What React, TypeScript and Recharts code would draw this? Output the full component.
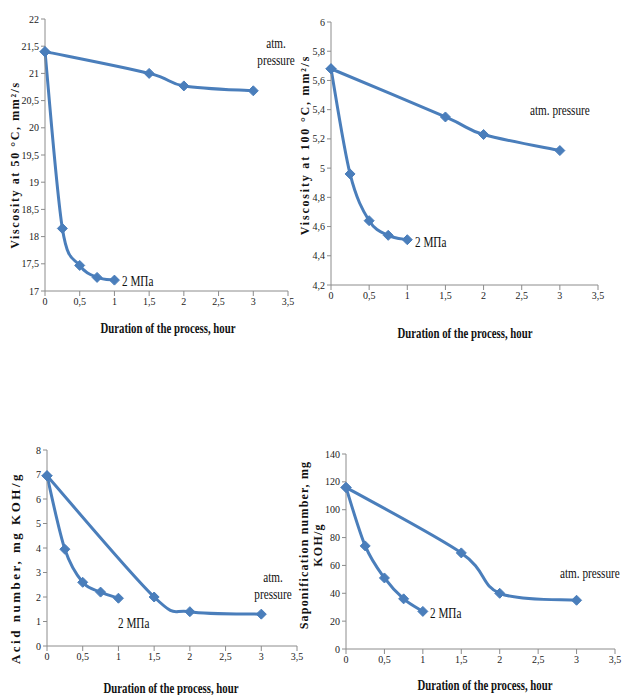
import React from 'react';
import { LineChart, Line, XAxis, YAxis } from 'recharts';

const atmHours = [0, 1.5, 2, 3];
const mpaHours = [0, 0.25, 0.5, 0.75, 1];
const xTicks = [0, 0.5, 1, 1.5, 2, 2.5, 3, 3.5];

const visc50Atm = [21.4, 21.0, 20.77, 20.68];
const visc50Mpa = [21.4, 18.15, 17.47, 17.25, 17.2];
const visc50Ticks = [17, 17.5, 18, 18.5, 19, 19.5, 20, 20.5, 21, 21.5, 22];

const visc100Atm = [5.68, 5.35, 5.23, 5.12];
const visc100Mpa = [5.68, 4.96, 4.64, 4.54, 4.51];
const visc100Ticks = [4.2, 4.4, 4.6, 4.8, 5, 5.2, 5.4, 5.6, 5.8, 6];

const acidAtm = [6.95, 2.0, 1.4, 1.3];
const acidMpa = [6.95, 3.95, 2.6, 2.2, 1.95];
const acidTicks = [0, 1, 2, 3, 4, 5, 6, 7, 8];

const saponAtm = [116, 69, 40, 35];
const saponMpa = [116, 74, 51, 36, 27];
const saponTicks = [0, 20, 40, 60, 80, 100, 120, 140];

const BLUE = '#4a7ebb';
const AXIS = '#8c8c8c';
const SERIF = '"Liberation Serif", "Times New Roman", serif';

const zip = (xs: number[], ys: number[]) => xs.map((x, i) => ({ x, y: ys[i] }));
const comma = (v: number) => String(v).replace('.', ',');

// Excel-like smoothing (uniform Catmull-Rom through the points)
const smoothCurve = (context: any) => {
  let pts: number[][] = [];
  return {
    areaStart() {},
    areaEnd() {},
    lineStart() {
      pts = [];
    },
    point(x: number, y: number) {
      pts.push([+x, +y]);
    },
    lineEnd() {
      if (!pts.length) return;
      context.moveTo(pts[0][0], pts[0][1]);
      for (let i = 0; i < pts.length - 1; i++) {
        const p0 = pts[i - 1] || pts[i];
        const p1 = pts[i];
        const p2 = pts[i + 1];
        const p3 = pts[i + 2] || p2;
        context.bezierCurveTo(
          p1[0] + (p2[0] - p0[0]) / 6,
          p1[1] + (p2[1] - p0[1]) / 6,
          p2[0] - (p3[0] - p1[0]) / 6,
          p2[1] - (p3[1] - p1[1]) / 6,
          p2[0],
          p2[1],
        );
      }
    },
  };
};

const Diamond = (props: any) => {
  const { cx, cy } = props;
  if (cx == null || cy == null) return null;
  const r = 5;
  return (
    <polygon
      points={`${cx},${cy - r} ${cx + r},${cy} ${cx},${cy + r} ${cx - r},${cy}`}
      fill={BLUE}
      stroke={BLUE}
    />
  );
};

function Panel({
  left,
  top,
  plotW,
  plotH,
  atm,
  mpa,
  yTicks,
}: {
  left: number;
  top: number;
  plotW: number;
  plotH: number;
  atm: number[];
  mpa: number[];
  yTicks: number[];
}) {
  const tickStyle = { fontSize: 10, fill: '#222', fontFamily: SERIF };
  return (
    <div style={{ position: 'absolute', left: left - 40, top: top - 10 }}>
      <LineChart
        width={plotW + 50}
        height={plotH + 40}
        margin={{ top: 10, right: 10, left: 0, bottom: 0 }}
      >
        <XAxis
          dataKey="x"
          type="number"
          domain={[0, 3.5]}
          ticks={xTicks}
          tickFormatter={comma}
          tick={tickStyle}
          stroke={AXIS}
          tickSize={5}
          height={30}
          allowDuplicatedCategory={false}
        />
        <YAxis
          type="number"
          domain={[yTicks[0], yTicks[yTicks.length - 1]]}
          ticks={yTicks}
          tickFormatter={comma}
          tick={tickStyle}
          stroke={AXIS}
          tickSize={4}
          width={40}
        />
        <Line
          data={zip(atmHours, atm)}
          dataKey="y"
          type={smoothCurve as any}
          stroke={BLUE}
          strokeWidth={3}
          dot={<Diamond />}
          isAnimationActive={false}
        />
        <Line
          data={zip(mpaHours, mpa)}
          dataKey="y"
          type={smoothCurve as any}
          stroke={BLUE}
          strokeWidth={3}
          dot={<Diamond />}
          isAnimationActive={false}
        />
      </LineChart>
    </div>
  );
}

const Note = ({ x, y, children, center }: { x: number; y: number; children: React.ReactNode; center?: boolean }) => (
  <div
    style={{
      position: 'absolute',
      left: x,
      top: y,
      transform: `translate(${center ? '-50%' : '0'}, -50%) scaleX(0.8)`,
      transformOrigin: center ? 'center' : 'left center',
      fontFamily: SERIF,
      fontSize: 14,
      lineHeight: '17px',
      color: '#111',
      whiteSpace: 'nowrap',
      textAlign: 'center',
    }}
  >
    {children}
  </div>
);

const XTitle = ({ x, y }: { x: number; y: number }) => (
  <div
    style={{
      position: 'absolute',
      left: x,
      top: y,
      transform: 'translate(-50%, -50%) scaleX(0.72)',
      fontFamily: SERIF,
      fontWeight: 'bold',
      fontSize: 15,
      color: '#111',
      whiteSpace: 'nowrap',
    }}
  >
    Duration of the process, hour
  </div>
);

const YTitle = ({
  x,
  y,
  size = 12,
  spacing = 1.6,
  children,
}: {
  x: number;
  y: number;
  size?: number;
  spacing?: number;
  children: React.ReactNode;
}) => (
  <div
    style={{
      position: 'absolute',
      left: x,
      top: y,
      transform: 'translate(-50%, -50%) rotate(-90deg)',
      fontFamily: SERIF,
      fontWeight: 'bold',
      fontSize: size,
      letterSpacing: spacing,
      lineHeight: `${size + 2}px`,
      color: '#111',
      whiteSpace: 'nowrap',
      textAlign: 'center',
    }}
  >
    {children}
  </div>
);

export default function App() {
  return (
    <div style={{ position: 'absolute', left: 0, top: 0, width: 623, height: 695, background: '#fff', overflow: 'hidden' }}>
      <Panel left={45} top={19} plotW={243} plotH={272} atm={visc50Atm} mpa={visc50Mpa} yTicks={visc50Ticks} />
      <Panel left={331} top={22} plotW={267} plotH={263} atm={visc100Atm} mpa={visc100Mpa} yTicks={visc100Ticks} />
      <Panel left={47} top={450} plotW={250} plotH={196} atm={acidAtm} mpa={acidMpa} yTicks={acidTicks} />
      <Panel left={346} top={454} plotW={269} plotH={195} atm={saponAtm} mpa={saponMpa} yTicks={saponTicks} />

      <YTitle x={15} y={165}>Viscosity at 50 °C, mm²/s</YTitle>
      <YTitle x={305} y={145} spacing={1.8}>Viscosity at 100 °C, mm²/s</YTitle>
      <YTitle x={15} y={568} size={13} spacing={2.5}>Acid number, mg KOH/g</YTitle>
      <YTitle x={311} y={545} spacing={1.2}>
        Saponification number, mg
        <br />
        KOH/g
      </YTitle>

      <XTitle x={168} y={328} />
      <XTitle x={465} y={333} />
      <XTitle x={171} y={688} />
      <XTitle x={485} y={685} />

      <Note x={276} y={52} center>
        atm.
        <br />
        pressure
      </Note>
      <Note x={122} y={281}>2 МПа</Note>
      <Note x={530} y={110}>atm. pressure</Note>
      <Note x={415} y={242}>2 МПа</Note>
      <Note x={273} y={586} center>
        atm.
        <br />
        pressure
      </Note>
      <Note x={118} y={623}>2 МПа</Note>
      <Note x={560} y={573}>atm. pressure</Note>
      <Note x={430} y={613}>2 МПа</Note>
    </div>
  );
}
